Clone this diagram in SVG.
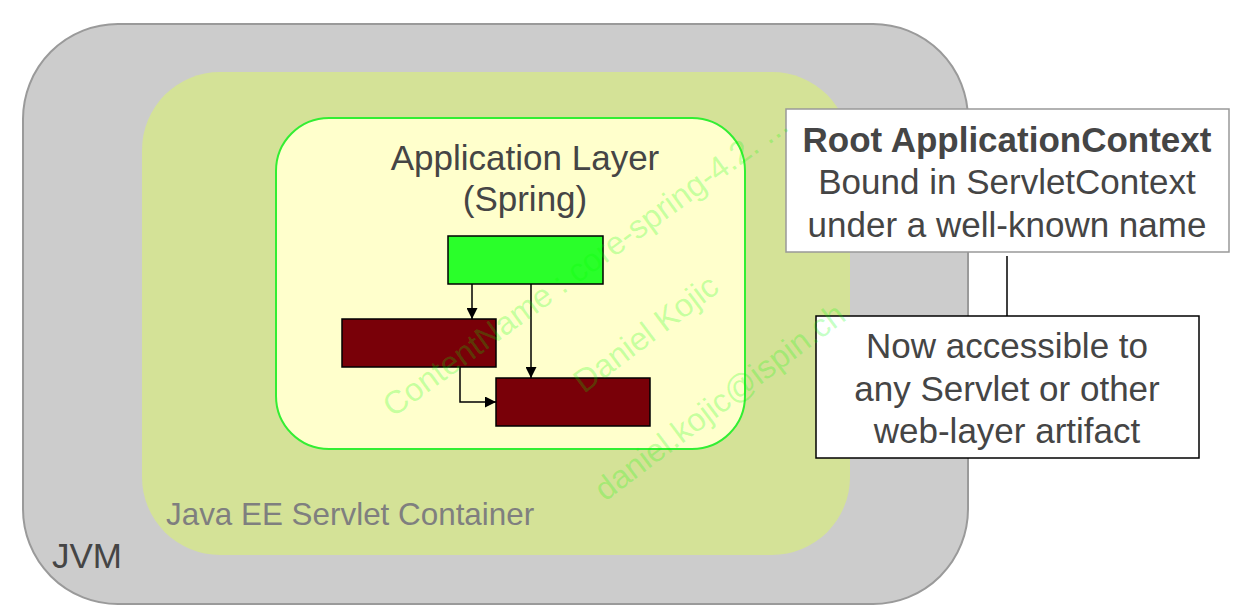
<svg xmlns="http://www.w3.org/2000/svg" width="1242" height="612" viewBox="0 0 1242 612">
<style>
text{font-family:"Liberation Sans",Arial,sans-serif}
.lbl{font-size:35px;fill:#454545;text-anchor:middle}
.bold{font-weight:bold}
.box{stroke:#000;stroke-width:1.5}
.conn{stroke:#000;stroke-width:1.5;fill:none}
.wm{font-size:32.5px;fill:#00ff00;fill-opacity:0.24}
</style>
<defs>
<marker id="arr" markerUnits="userSpaceOnUse" markerWidth="11" markerHeight="11" refX="11" refY="5.5" orient="auto">
<path d="M0,0 L11,5.5 L0,11 z" fill="#000"/>
</marker>
</defs>
<rect width="1242" height="612" fill="#fff"/>
<g id="jvm">
<rect x="23" y="24" width="945" height="580" rx="95" fill="#cccccc" stroke="#9a9a9a" stroke-width="2"/>
<text x="52" y="568" style="font-size:35px;fill:#454545">JVM</text>
</g>
<g id="servlet-container">
<rect x="142" y="72" width="708" height="483" rx="78" fill="#d4e297"/>
<text x="166" y="525" style="font-size:31.4px;fill:#7f7f7f">Java EE Servlet Container</text>
</g>
<g id="application-layer">
<rect x="276" y="118" width="469" height="331" rx="53" fill="#ffffcc" stroke="#33ee33" stroke-width="2"/>
<text class="lbl" x="525" y="170">Application Layer</text>
<text class="lbl" x="525" y="211">(Spring)</text>
</g>
<g id="bean-root">
<rect class="box" x="448" y="236" width="155" height="48" fill="#2aff2a"/>
</g>
<g id="bean-left">
<rect class="box" x="342" y="319" width="154" height="48" fill="#790008"/>
</g>
<g id="bean-right">
<rect class="box" x="496" y="378" width="154" height="48" fill="#790008"/>
</g>
<g id="callout-root">
<rect x="786" y="109" width="443" height="143" fill="#fff" stroke="#999" stroke-width="1.5"/>
<text class="lbl bold" x="1007" y="152">Root ApplicationContext</text>
<text class="lbl" x="1007" y="194">Bound in ServletContext</text>
<text class="lbl" x="1007" y="237">under a well-known name</text>
</g>
<g id="callout-access">
<rect class="box" x="816" y="316" width="383" height="142" fill="#fff"/>
<text class="lbl" x="1007" y="358">Now accessible to</text>
<text class="lbl" x="1007" y="401">any Servlet or other</text>
<text class="lbl" x="1007" y="443">web-layer artifact</text>
</g>
<g id="connectors">
<line class="conn" x1="472" y1="284" x2="472" y2="319" marker-end="url(#arr)"/>
<line class="conn" x1="531" y1="284" x2="531" y2="378" marker-end="url(#arr)"/>
<polyline class="conn" points="460,367 460,402 496,402" marker-end="url(#arr)"/>
<line class="conn" x1="1007" y1="256" x2="1007" y2="316"/>
</g>
<g id="watermark">
<text class="wm" transform="translate(393,418) rotate(-36)">ContentName : core-spring-4.2. ...</text>
<text class="wm" transform="translate(584,394) rotate(-37)">Daniel Kojic</text>
<text class="wm" transform="translate(605,502) rotate(-37)">daniel.kojic@ispin.ch</text>
</g>
</svg>
